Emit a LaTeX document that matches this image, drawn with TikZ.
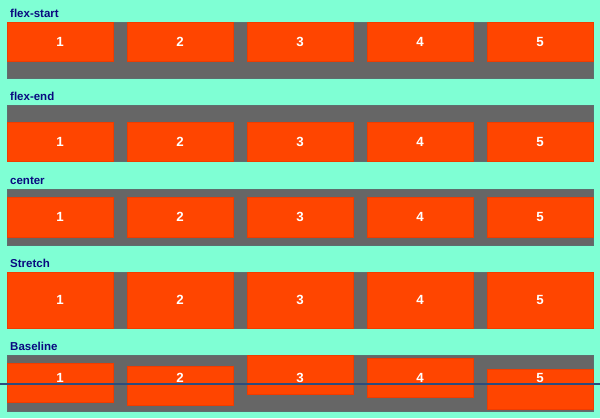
\documentclass[tikz,border=0pt]{standalone}
\usepackage{fontspec}
\setmainfont{Liberation Sans}
\definecolor{bg}{HTML}{7FFFD4}
\definecolor{cont}{HTML}{666666}
\definecolor{contedge}{HTML}{5E6E6E}
\definecolor{item}{HTML}{FF4500}
\definecolor{itemedge}{HTML}{F03C00}
\definecolor{ttl}{HTML}{0A0A80}
\definecolor{baselinecol}{HTML}{2B4C7E}
\tikzset{
  contbox/.style={draw=contedge, line width=0.8pt, fill=cont, inner sep=0pt, outer sep=0pt, minimum width=586pt, minimum height=56pt, anchor=north west},
  itembox/.style={draw=itemedge, line width=0.5pt, fill=item, inner sep=0pt, outer sep=0pt, minimum width=106pt, anchor=north west, text=white, text height=9.5pt, text depth=0pt, font=\bfseries\fontsize{13.3}{13.3}\selectfont},
  numtext/.style={inner sep=0pt, anchor=base, text=white, font=\bfseries\fontsize{13.3}{13.3}\selectfont},
  ttltext/.style={inner sep=0pt, anchor=base west, text=ttl, font=\bfseries\fontsize{11.5}{12}\selectfont},
  blline/.style={draw=baselinecol, line width=2pt},
}
\begin{document}
\begin{tikzpicture}[x=1pt,y=-1pt]
\fill[bg] (0,0) rectangle (600,418);
\useasboundingbox (0,0) rectangle (600,418);
% titles
\node[ttltext] (t1) at (10,17) {flex-start};
\node[ttltext] (t2) at (10,100.3) {flex-end};
\node[ttltext] (t3) at (10,184) {center};
\node[ttltext] (t4) at (10,267.3) {Stretch};
\node[ttltext] (t5) at (10,350.7) {Baseline};
% containers
\node[contbox] (c1) at (7,22) {};
\node[contbox] (c2) at (7,105.5) {};
\node[contbox] (c3) at (7,189) {};
\node[contbox] (c4) at (7,272) {};
\node[contbox] (c5) at (7,355.3) {};
% items
\foreach \i/\x in {1/7,2/127,3/247,4/367,5/487}{
  \node[itembox, minimum height=39pt] (a\i) at (\x,22) {\i};
  \node[itembox, minimum height=39pt] (b\i) at (\x,122.2) {\i};
  \node[itembox, minimum height=39.5pt] (d\i) at (\x,197.3) {\i};
  \node[itembox, minimum height=56pt] (e\i) at (\x,272) {\i};
}
% baseline
\node[itembox, minimum height=39pt] (f1) at (7,363.7) {};
\node[itembox, minimum height=39.4pt] (f2) at (127,366.3) {};
\node[itembox, minimum height=39.4pt] (f3) at (247,355.3) {};
\node[itembox, minimum height=39.7pt] (f4) at (367,358) {};
\node[itembox, minimum height=40pt] (f5) at (487,369.3) {};
\foreach \i in {1,...,5}{
  \path (f\i.north) coordinate (fx\i);
  \node[numtext] (n\i) at (fx\i |- 0,382.6) {\i};
}
\coordinate (bl0) at (0,383.7);
\coordinate (bl1) at (600,383.7);
\path[blline] (bl0) -- (bl1);
\end{tikzpicture}
\end{document}
